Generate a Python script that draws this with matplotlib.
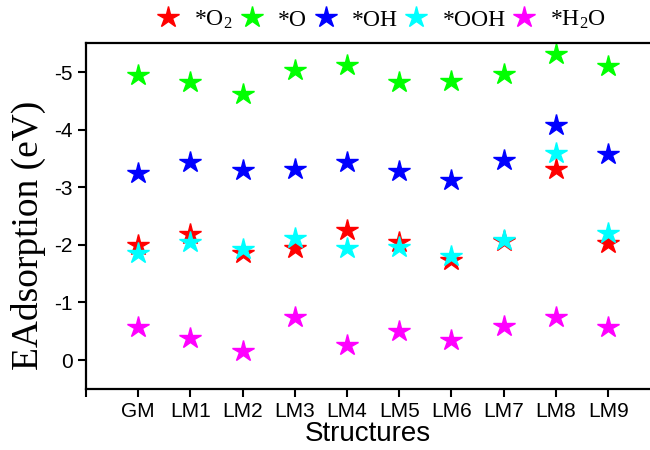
import numpy as np
import matplotlib
matplotlib.use('Agg')
import matplotlib.pyplot as plt

# Adsorption energies (eV) for each structure
structures = ['GM', 'LM1', 'LM2', 'LM3', 'LM4', 'LM5', 'LM6', 'LM7', 'LM8', 'LM9']
e_o2 = [-2.00, -2.18, -1.85, -1.95, -2.26, -2.04, -1.74, -2.06, -3.31, -2.03]
e_o = [-4.94, -4.82, -4.62, -5.04, -5.13, -4.82, -4.84, -4.97, -5.31, -5.11]
e_oh = [-3.25, -3.44, -3.30, -3.31, -3.43, -3.28, -3.12, -3.48, -4.08, -3.57]
e_ooh = [-1.86, -2.04, -1.92, -2.12, -1.95, -1.97, -1.81, -2.09, -3.60, -2.21]
e_h2o = [-0.58, -0.38, -0.16, -0.74, -0.26, -0.51, -0.35, -0.59, -0.75, -0.58]

series = [
    (e_o2, '#ff0000', '*O$_2$'),
    (e_o, '#00ff00', '*O'),
    (e_oh, '#0000ff', '*OH'),
    (e_ooh, '#00ffff', '*OOH'),
    (e_h2o, '#ff00ff', '*H$_2$O'),
]

plt.rcParams['mathtext.fontset'] = 'custom'
plt.rcParams['mathtext.rm'] = 'Liberation Serif'
plt.rcParams['mathtext.it'] = 'Liberation Serif:italic'

fig = plt.figure(figsize=(6.5, 4.5), dpi=100)
ax = fig.add_axes([0.132, 0.136, 0.868, 0.768])

x = np.arange(1, len(structures) + 1)
for vals, col, lab in series:
    ax.plot(x, vals, linestyle='none', marker='*', markersize=16,
            color=col, markeredgecolor=col, label=lab)

ax.set_xlim(0, 10.8)
ax.set_ylim(0.5, -5.5)
ax.set_xticks(np.arange(0, len(structures) + 1))
ax.set_xticklabels([''] + structures, family='Liberation Sans', fontsize=15)
ax.set_yticks([-5, -4, -3, -2, -1, 0])
ax.set_yticklabels(['-5', '-4', '-3', '-2', '-1', '0'], family='Liberation Sans', fontsize=15)
ax.tick_params(direction='out', length=6, width=1.5)

for side in ['left', 'bottom', 'top']:
    ax.spines[side].set_linewidth(1.6)
ax.spines['right'].set_visible(False)

ax.set_xlabel('Structures', family='Liberation Sans', fontsize=20, labelpad=0)
fig.text(28 / 650, 0.478, 'EAdsorption (eV)', family='Liberation Serif', fontsize=27,
         rotation=90, ha='center', va='center')

ax.legend(loc='center', bbox_to_anchor=(0.587, 0.956), bbox_transform=fig.transFigure,
          ncol=5, frameon=False, prop={'family': 'Liberation Serif', 'size': 17},
          handlelength=1.0, handletextpad=0.6, columnspacing=0.3, borderaxespad=0.0)

fig.savefig('out.png', dpi=100)
